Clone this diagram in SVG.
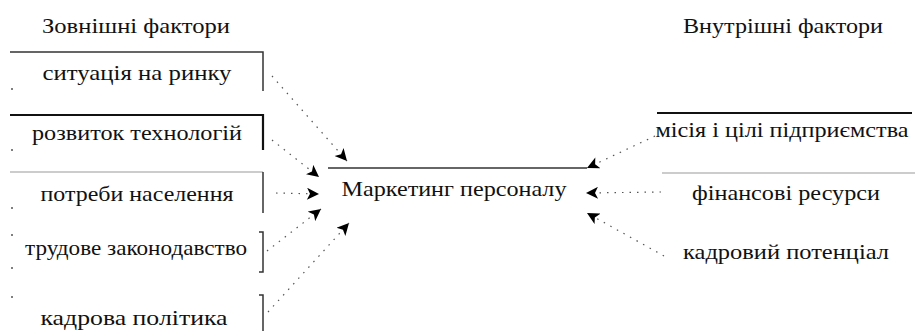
<svg xmlns="http://www.w3.org/2000/svg" width="915" height="331" viewBox="0 0 915 331">
<defs>
<marker id="ah" viewBox="0 0 10 10" refX="10" refY="5" markerWidth="13" markerHeight="12" markerUnits="userSpaceOnUse" orient="auto">
<path d="M0,0 L10,5 L0,10 L2.5,5 Z" fill="#000"/>
</marker>
</defs>
<style>
text{font-family:"Liberation Serif","DejaVu Serif","Times New Roman",serif;font-size:22px;fill:#111;text-anchor:middle}
.bl{stroke:#333;stroke-width:1.5;fill:none}
.bk{stroke:#111;stroke-width:2.2;fill:none}
.gr{stroke:#999;stroke-width:1.2;fill:none}
.dt{stroke:#555;stroke-width:1.2;stroke-dasharray:1.5 6;fill:none;marker-end:url(#ah)}
.dot{fill:#555}
</style>
<rect width="915" height="331" fill="#fff"/>
<text font-family="Liberation Serif, serif" x="136" y="33" textLength="188" lengthAdjust="spacingAndGlyphs">Зовнішні фактори</text>
<text font-family="Liberation Serif, serif" x="783" y="33" textLength="200" lengthAdjust="spacingAndGlyphs">Внутрішні фактори</text>
<g id="n1">
<path class="bl" d="M10,52 H263 V91"/>
<text font-family="Liberation Serif, serif" x="137" y="80" textLength="189" lengthAdjust="spacingAndGlyphs">ситуація на ринку</text>
<circle class="dot" cx="12" cy="89" r="1"/>
</g>
<g id="n2">
<path class="bk" d="M10,115 H263 V150"/>
<text font-family="Liberation Serif, serif" x="137" y="140" textLength="210" lengthAdjust="spacingAndGlyphs">розвиток технологій</text>
<circle class="dot" cx="12" cy="150" r="1"/>
</g>
<g id="n3">
<path class="gr" d="M10,172 H263"/>
<path class="bl" d="M263,172 V213"/>
<text font-family="Liberation Serif, serif" x="137" y="201" textLength="193" lengthAdjust="spacingAndGlyphs">потреби населення</text>
<circle class="dot" cx="12" cy="208" r="1"/>
</g>
<g id="n4">
<path class="bl" d="M259,232 H263 V272 H259"/>
<text font-family="Liberation Serif, serif" x="136" y="255" textLength="222" lengthAdjust="spacingAndGlyphs">трудове законодавство</text>
<circle class="dot" cx="12" cy="235" r="1"/>
<circle class="dot" cx="12" cy="268" r="1"/>
</g>
<g id="n5">
<path class="bl" d="M259,295 H263 V331"/>
<text font-family="Liberation Serif, serif" x="134" y="325" textLength="187" lengthAdjust="spacingAndGlyphs">кадрова політика</text>
<circle class="dot" cx="12" cy="297" r="1"/>
</g>
<g id="center">
<path class="bl" d="M328,168 H587"/>
<text font-family="Liberation Serif, serif" x="454" y="196" textLength="225" lengthAdjust="spacingAndGlyphs">Маркетинг персоналу</text>
</g>
<g id="r1">
<path class="bk" d="M657,113 H912"/>
<text font-family="Liberation Serif, serif" x="782" y="137" textLength="253" lengthAdjust="spacingAndGlyphs">місія і цілі підприємства</text>
</g>
<g id="r2">
<path class="gr" d="M662,173 H915"/>
<text font-family="Liberation Serif, serif" x="786" y="200" textLength="188" lengthAdjust="spacingAndGlyphs">фінансові ресурси</text>
</g>
<g id="r3">
<text font-family="Liberation Serif, serif" x="786" y="259" textLength="206" lengthAdjust="spacingAndGlyphs">кадровий потенціал</text>
</g>
<g id="connectors">
<path class="dt" d="M272,76 L347,161"/>
<path class="dt" d="M272,140 L319,177"/>
<path class="dt" d="M276,193 L319,194"/>
<path class="dt" d="M267,251 L321,209"/>
<path class="dt" d="M268,312 L349,223"/>
<path class="dt" d="M655,136 L587,168"/>
<path class="dt" d="M661,192 L586,193"/>
<path class="dt" d="M664,256 L587,213"/>
</g>
</svg>
